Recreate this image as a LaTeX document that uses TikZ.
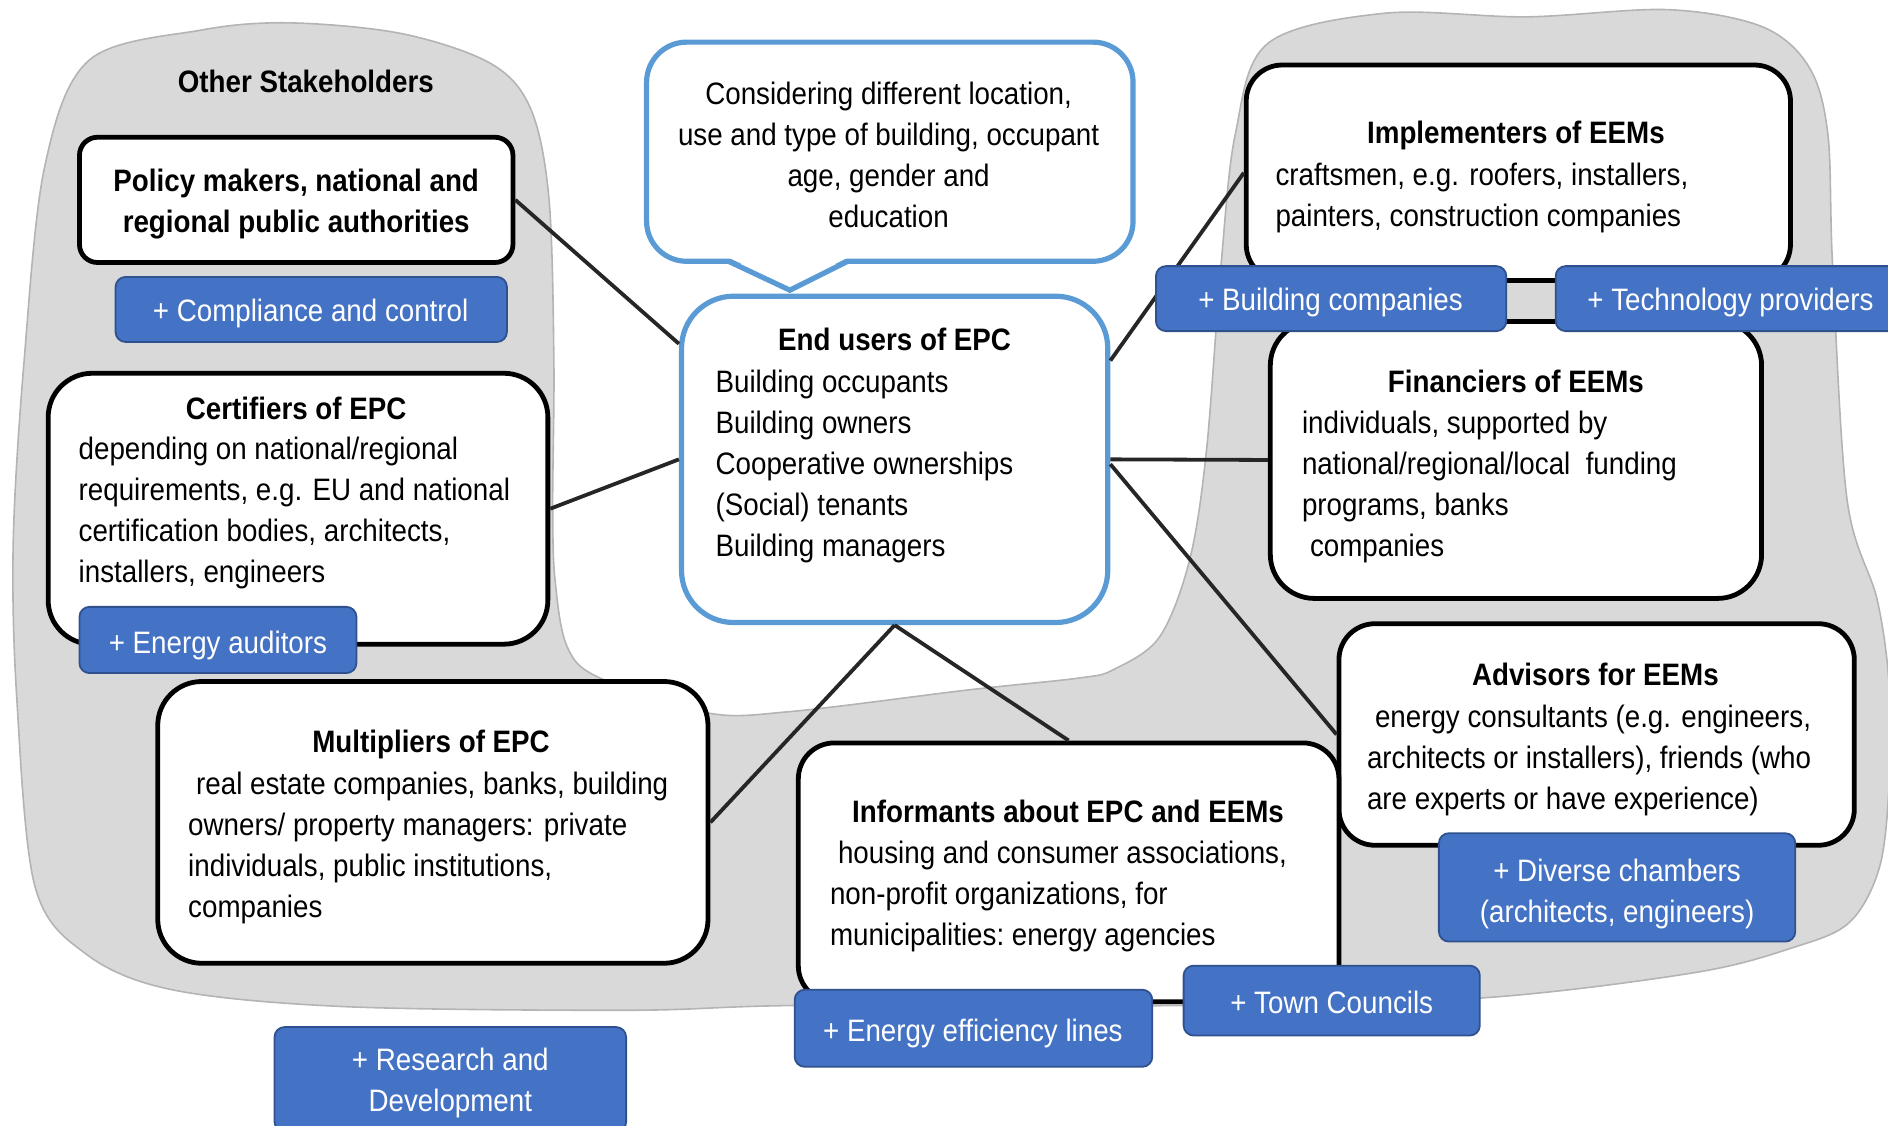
\documentclass[tikz,border=0pt]{standalone}
\usepackage{fontspec}
\setmainfont{Liberation Sans}[FakeStretch=0.895]
\usetikzlibrary{fit,calc}
\definecolor{greyfill}{HTML}{D9D9D9}
\definecolor{greyline}{HTML}{B4B4B4}
\definecolor{bluefillc}{HTML}{4472C4}
\definecolor{bluedark}{HTML}{2F528F}
\definecolor{lightblue}{HTML}{5B9BD5}
\definecolor{connc}{HTML}{262626}
\def\pxu{0.602pt}
\newcommand\bodyfont{\fontsize{15.5}{20.5}\selectfont}
\newcommand\linesc[1]{\begin{tabular}[t]{@{}c@{}}#1\end{tabular}}
\newcommand\linesl[1]{\begin{tabular}[t]{@{}l@{}}#1\end{tabular}}
\begin{document}
\begin{tikzpicture}[x=0.602pt,y=-0.602pt,
  blob/.style={fill=greyfill, draw=greyline, line width=0.8pt},
  whitebox/.style={draw=black, line width=2.4pt, fill=white, rounded corners=#1, inner sep=0pt},
  whitebox/.default=18pt,
  bluebox/.style={draw=bluedark, line width=0.9pt, fill=bluefillc, rounded corners=5pt, inner sep=0pt},
  endbox/.style={draw=lightblue, line width=2.6pt, fill=white, rounded corners=#1, inner sep=0pt},
  endbox/.default=24pt,
  conn/.style={draw=connc, line width=1.9pt},
  txt/.style={font=\bodyfont, inner sep=0pt, anchor=base, yshift=-2*\pxu},
  txtl/.style={font=\bodyfont, inner sep=0pt, anchor=base west, yshift=-2*\pxu},
  ttl/.style={font=\bodyfont\bfseries, inner sep=0pt, anchor=base, yshift=-2*\pxu},
  wtxt/.style={font=\bodyfont, text=white, inner sep=0pt, anchor=base, yshift=-2*\pxu},
]
\useasboundingbox (0,0) rectangle (1568,935);
\clip (0,0) rectangle (1568,935);

% grey background
\draw[blob] plot[smooth cycle, tension=0.55] coordinates {(37,139) (74,50) (167,25) (241,19) (334,28) (408,53) (441,91) (456,166) (460,300) (459,420) (461,482) (471,537) (498,563) (587,592) (656,591) (804,573) (897,563) (925,556) (963,529) (988,465) (1002,374) (1014,221) (1026,111) (1053,36) (1150,11) (1268,14) (1385,8) (1463,22) (1502,55) (1518,111) (1522,221) (1534,415) (1559,498) (1569,570) (1569,650) (1561,720) (1536,766) (1489,787) (1406,808) (1228,829) (1000,835) (668,835) (524,839) (286,836) (143,822) (71,792) (29,736) (14,581) (11,450) (20,300)};

% white boxes
\node[whitebox=9pt, fit={(66,114) (426,218)}] (policy) {};
\node[whitebox=22pt, fit={(40,310) (455,535)}] (cert) {};
\node[whitebox=22pt, fit={(131,566) (588,800)}] (mult) {};
\node[whitebox=18pt, fit={(1035,54) (1487,233)}] (impl) {};
\node[whitebox=22pt, fit={(1055,267) (1463,497)}] (fin) {};
\node[whitebox=18pt, fit={(1112,518) (1540,702)}] (adv) {};
\node[whitebox=18pt, fit={(663,617) (1112,832)}] (inf) {};
\node[endbox=26pt, fit={(566,246) (920,517)}] (endu) {};

% callout
\node[endbox=20pt, fit={(537,35) (941,217)}] (callout) {};
\fill[white] (604,213.5) -- (705,213.5) -- (656,238) -- cycle;
\draw[draw=lightblue, line width=2.6pt, line join=miter] (605,217) -- (656,241) -- (704,217);

% connectors
\draw[conn] (policy.east) -- ([yshift=96*\pxu]endu.west);
\draw[conn] (cert.east) -- (endu.west);
\draw[conn] (endu.south) -- (mult.east);
\draw[conn] (endu.south) -- (inf.north);
\draw[conn] ([yshift=82*\pxu]endu.east) -- (impl.west);
\draw[conn] (endu.east) -- (fin.west);
\draw[conn] ([yshift=-4*\pxu]endu.east) -- (adv.west);

% blue boxes
\node[bluebox, fit={(96,230) (421,284)}] (compl) {};
\node[bluebox, fit={(66,504) (296,559)}] (audit) {};
\node[bluebox, fit={(228,853) (520,940)}] (research) {};
\node[bluebox, fit={(960,221) (1251,275)}] (buildco) {};
\node[bluebox, fit={(1292,221) (1600,275)}] (techprov) {};
\node[bluebox, fit={(1195,692) (1491,782)}] (chambers) {};
\node[bluebox, fit={(660,822) (957,886)}] (eelines) {};
\node[bluebox, fit={(983,802) (1229,860)}] (town) {};

% texts
\node[ttl] (t-other) at (254,75) {Other Stakeholders};
\node[ttl] (t-policy) at (246,157) {\linesc{Policy makers, national and\\regional public authorities}};
\node[wtxt] (t-compl) at (258,265) {+ Compliance and control};

\node[ttl] (t-cert) at (246,346) {Certifiers of EPC};
\node[txtl] (b-cert) at (65,380) {\linesl{depending on national/regional\\requirements, e.g. EU and national\\certification bodies, architects,\\installers, engineers}};
\node[wtxt] (t-audit) at (181,541) {+ Energy auditors};

\node[ttl] (t-mult) at (358,623) {Multipliers of EPC};
\node[txtl] (b-mult) at (156,658) {\linesl{\hspace{4pt}real estate companies, banks, building\\owners/ property managers: private\\individuals, public institutions,\\companies}};
\node[wtxt] (t-research) at (374,887) {\linesc{+ Research and\\Development}};

\node[txt] (t-callout) at (738,85) {\linesc{Considering different location,\\use and type of building, occupant\\age, gender and\\education}};

\node[ttl] (t-endu) at (743,289) {End users of EPC};
\node[txtl] (b-endu) at (594,324) {\linesl{Building occupants\\Building owners\\Cooperative ownerships\\(Social) tenants\\Building managers}};

\node[ttl] (t-impl) at (1259,117) {Implementers of EEMs};
\node[txtl] (b-impl) at (1059,152) {\linesl{craftsmen, e.g. roofers, installers,\\painters, construction companies}};
\node[wtxt] (t-buildco) at (1105,256) {+ Building companies};
\node[wtxt, anchor=base west] (t-techprov) at (1318,256) {+ Technology providers};

\node[ttl] (t-fin) at (1259,324) {Financiers of EEMs};
\node[txtl] (b-fin) at (1081,358) {\linesl{individuals, supported by\\national/regional/local\ \ funding\\programs, banks\\\hspace{4pt}companies}};

\node[ttl] (t-adv) at (1325,567) {Advisors for EEMs};
\node[txtl] (b-adv) at (1135,602) {\linesl{\hspace{4pt}energy consultants (e.g. engineers,\\architects or installers), friends (who\\are experts or have experience)}};
\node[wtxt] (t-chambers) at (1343,730) {\linesc{+ Diverse chambers\\(architects, engineers)}};

\node[ttl] (t-inf) at (887,681) {Informants about EPC and EEMs};
\node[txtl] (b-inf) at (689,715) {\linesl{\hspace{4pt}housing and consumer associations,\\non-profit organizations, for\\municipalities:\ energy agencies}};
\node[wtxt] (t-eelines) at (808,863) {+ Energy efficiency lines};
\node[wtxt] (t-town) at (1106,840) {+ Town Councils};
\end{tikzpicture}
\end{document}
